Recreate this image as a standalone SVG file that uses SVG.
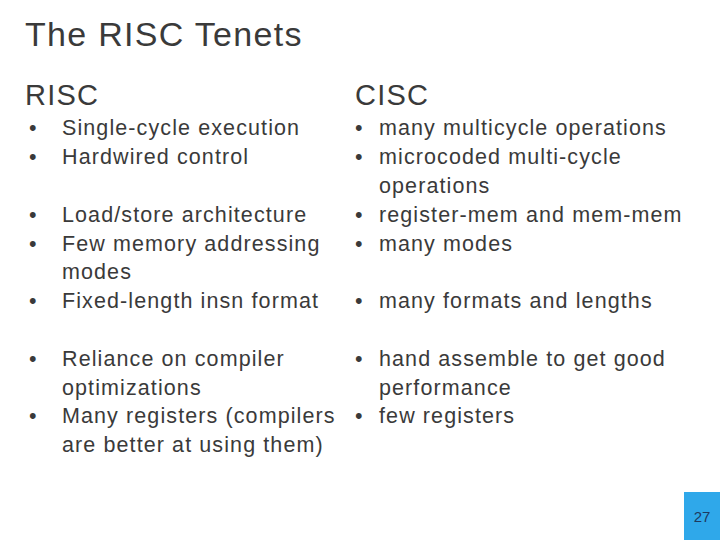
<svg xmlns="http://www.w3.org/2000/svg" width="720" height="540" viewBox="0 0 720 540">
<style>
text{font-family:"Liberation Sans",Arial,sans-serif;fill:#3a3a3a}
.t{font-size:34px;letter-spacing:1.3px}
.h{font-size:29px;letter-spacing:1.2px}
.b{font-size:21.5px;letter-spacing:1.1px}
</style>
<rect width="720" height="540" fill="#fff"/>
<text class="t" x="25" y="46">The RISC Tenets</text>
<text class="h" x="25" y="105">RISC</text>
<text class="h" x="355" y="105">CISC</text>
<g class="b">
<text class="b" x="29" y="135">•</text><text class="b" x="62" y="135">Single-cycle execution</text>
<text class="b" x="29" y="164">•</text><text class="b" x="62" y="164">Hardwired control</text>
<text class="b" x="29" y="222">•</text><text class="b" x="62" y="222">Load/store architecture</text>
<text class="b" x="29" y="251">•</text><text class="b" x="62" y="251">Few memory addressing</text>
<text class="b" x="62" y="279">modes</text>
<text class="b" x="29" y="308">•</text><text class="b" x="62" y="308">Fixed-length insn format</text>
<text class="b" x="29" y="366">•</text><text class="b" x="62" y="366">Reliance on compiler</text>
<text class="b" x="62" y="395">optimizations</text>
<text class="b" x="29" y="423">•</text><text class="b" x="62" y="423">Many registers (compilers</text>
<text class="b" x="62" y="452">are better at using them)</text>
<text class="b" x="355" y="135">•</text><text class="b" x="379" y="135">many multicycle operations</text>
<text class="b" x="355" y="164">•</text><text class="b" x="379" y="164">microcoded multi-cycle</text>
<text class="b" x="379" y="193">operations</text>
<text class="b" x="355" y="222">•</text><text class="b" x="379" y="222">register-mem and mem-mem</text>
<text class="b" x="355" y="251">•</text><text class="b" x="379" y="251">many modes</text>
<text class="b" x="355" y="308">•</text><text class="b" x="379" y="308">many formats and lengths</text>
<text class="b" x="355" y="366">•</text><text class="b" x="379" y="366">hand assemble to get good</text>
<text class="b" x="379" y="395">performance</text>
<text class="b" x="355" y="423">•</text><text class="b" x="379" y="423">few registers</text>
</g>
<rect x="684" y="492" width="36" height="48" fill="#2fa8ea"/>
<text x="702" y="522" font-size="15" text-anchor="middle" style="fill:#1e3a5f">27</text>
</svg>
